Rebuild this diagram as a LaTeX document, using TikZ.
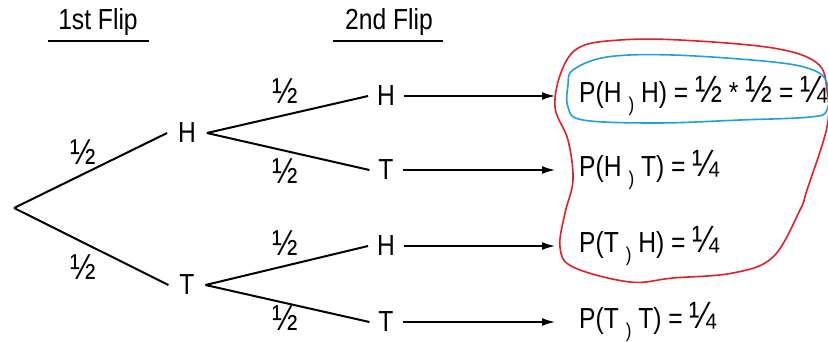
\documentclass[tikz,border=0pt]{standalone}
\usepackage{fontspec}
\setmainfont[FakeStretch=0.85]{Liberation Sans}
\usetikzlibrary{arrows.meta}
\newcommand{\cm}{\raisebox{-0.3em}{\fontsize{20}{20}\selectfont )}}
\newcommand{\fr}[1]{{\fontsize{38}{30}\selectfont #1}}
\begin{document}
\begin{tikzpicture}[x=1pt,y=-1pt,
  every node/.style={font=\fontsize{29}{32}\selectfont, inner sep=0pt},
  lbl/.style={outer sep=9pt},
  frac/.style={font=\fontsize{36}{38}\selectfont},
  branch/.style={line width=2pt},
  arr/.style={line width=1.6pt,-{Latex[length=13pt,width=8pt]}, shorten >=24pt},
  head/.style={line width=2pt},
  red loop/.style={draw={rgb,255:red,228;green,30;blue,40}, line width=1.6pt},
  blue loop/.style={draw={rgb,255:red,30;green,160;blue,222}, line width=1.6pt}]
\useasboundingbox (0,0) rectangle (828,341);
% headings
\node (f1) at (98,22) {1st Flip};
\node (f2) at (389,22) {2nd Flip};
\coordinate (u1a) at (48,41); \coordinate (u1b) at (149,41);
\coordinate (u2a) at (333,41); \coordinate (u2b) at (443,41);
\draw[head] (u1a) -- (u1b);
\draw[head] (u2a) -- (u2b);
% tree
\coordinate (root) at (14,208);
\node[lbl, outer sep=11pt] (h1) at (187,133) {H};
\node[lbl, outer sep=11pt] (t1) at (187,285) {T};
\node[lbl] (hh) at (386,96) {H};
\node[lbl] (ht) at (386,170) {T};
\node[lbl] (th) at (386,246) {H};
\node[lbl] (tt) at (386,322) {T};
\draw[branch] (root) -- (h1.west);
\draw[branch] (root) -- (t1.west);
\draw[branch] (h1.east) -- (hh.west);
\draw[branch] (h1.east) -- (ht.west);
\draw[branch] (t1.east) -- (th.west);
\draw[branch] (t1.east) -- (tt.west);
% fraction labels
\node[frac] (l1) at (83,152) {½};
\node[frac] (l2) at (83,267) {½};
\node[frac] (l3) at (285,91) {½};
\node[frac] (l4) at (285,171) {½};
\node[frac] (l5) at (285,243) {½};
\node[frac] (l6) at (285,318) {½};
% results
\node[anchor=west] (p1) at (579,96) {P(H \cm\ H) = \fr{½} * \fr{½} = \fr{¼}};
\node[anchor=west] (p2) at (579,170) {P(H \cm\ T) = \fr{¼}};
\node[anchor=west] (p3) at (579,246) {P(T \cm\ H) = \fr{¼}};
\node[anchor=west] (p4) at (579,322) {P(T \cm\ T) = \fr{¼}};
\draw[arr] (hh.east) -- (p1.west);
\draw[arr] (ht.east) -- (p2.west);
\draw[arr] (th.east) -- (p3.west);
\draw[arr] (tt.east) -- (p4.west);
% hand-drawn loops
\draw[red loop] plot[smooth cycle, tension=0.6] coordinates {
 (580,47) (620,40) (680,40) (773,48) (817,63) (827,90) (827,127) (807,190)
 (800,210) (773,257) (733,273) (673,278) (630,282) (573,267) (560,247)
 (565,213) (573,180) (568,140) (555,107) (562,70)};
\draw[blue loop] plot[smooth cycle, tension=0.6] coordinates {
 (573,70) (607,57) (673,55) (773,62) (813,70) (827,83) (827,110) (810,117)
 (740,120) (657,123) (583,120) (568,107) (568,85)};
\end{tikzpicture}
\end{document}
